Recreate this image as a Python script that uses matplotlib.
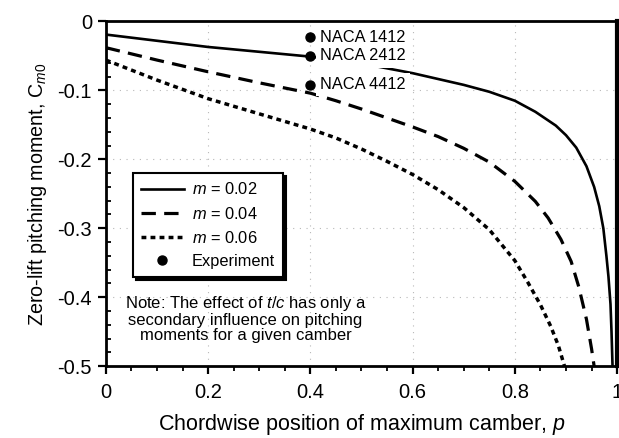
import matplotlib
matplotlib.use("Agg")
import matplotlib.pyplot as plt
from matplotlib.ticker import MultipleLocator, FixedLocator, FixedFormatter

plt.rcParams["font.family"] = ["Liberation Sans", "DejaVu Sans"]
plt.rcParams["mathtext.fontset"] = "custom"
plt.rcParams["mathtext.rm"] = "Liberation Sans"
plt.rcParams["mathtext.it"] = "Liberation Sans:italic"
plt.rcParams["axes.unicode_minus"] = False

# Zero-lift pitching moment vs. position of maximum camber
p_m02 = [0.0, 0.1, 0.2, 0.3, 0.4, 0.5, 0.6, 0.7, 0.75, 0.8, 0.84, 0.88, 0.9,
         0.92, 0.94, 0.955, 0.965, 0.973, 0.979, 0.983, 0.987, 0.989, 0.991]
cm_m02 = [-0.019, -0.028, -0.037, -0.044, -0.051, -0.061, -0.075, -0.092, -0.102,
          -0.115, -0.131, -0.151, -0.165, -0.183, -0.210, -0.240, -0.268, -0.300,
          -0.340, -0.370, -0.410, -0.450, -0.500]

p_m04 = [0.0, 0.1, 0.2, 0.3, 0.4, 0.45, 0.5, 0.55, 0.6, 0.65, 0.7, 0.75, 0.8,
         0.84, 0.865, 0.89, 0.91, 0.925, 0.94, 0.95, 0.955]
cm_m04 = [-0.038, -0.056, -0.073, -0.089, -0.104, -0.115, -0.127, -0.140, -0.153,
          -0.167, -0.184, -0.204, -0.232, -0.261, -0.285, -0.316, -0.348, -0.385,
          -0.432, -0.475, -0.500]

p_m06 = [0.0, 0.1, 0.2, 0.3, 0.4, 0.45, 0.5, 0.55, 0.6, 0.65, 0.7, 0.75, 0.8,
         0.825, 0.85, 0.87, 0.885, 0.897]
cm_m06 = [-0.056, -0.085, -0.112, -0.134, -0.156, -0.169, -0.185, -0.203, -0.222,
          -0.244, -0.270, -0.302, -0.347, -0.378, -0.411, -0.442, -0.470, -0.500]

# Measured values for the NACA airfoils
exp_p = [0.4, 0.4, 0.4]
exp_cm = [-0.023, -0.050, -0.092]
exp_names = ["NACA 1412", "NACA 2412", "NACA 4412"]

x_ticks = [0.0, 0.2, 0.4, 0.6, 0.8, 1.0]
x_tick_labels = ["0", "0.2", "0.4", "0.6", "0.8", "1"]
y_ticks = [0.0, -0.1, -0.2, -0.3, -0.4, -0.5]
y_tick_labels = ["0", "-0.1", "-0.2", "-0.3", "-0.4", "-0.5"]

fig = plt.figure(figsize=(6.19, 4.38), dpi=100)
ax = fig.add_axes([0.171, 0.164, 0.826, 0.787])

ax.plot(p_m02, cm_m02, color="black", lw=1.9, ls="-", label="$m$ = 0.02", zorder=3)
ax.plot(p_m04, cm_m04, color="black", lw=2.3, ls=(0, (4.5, 2.6)), label="$m$ = 0.04", zorder=3)
ax.plot(p_m06, cm_m06, color="black", lw=2.5, ls=(0, (1.4, 1.2)), label="$m$ = 0.06", zorder=3)
ax.plot(exp_p, exp_cm, ls="none", marker="o", ms=6.5, color="black", label="Experiment", zorder=5)

for xp, yp, name in zip(exp_p, exp_cm, exp_names):
    ax.annotate(name, (xp, yp), xytext=(7, 0), textcoords="offset points",
                ha="left", va="center", fontsize=11.8, zorder=4,
                bbox=dict(boxstyle="square,pad=0.25", fc="white", ec="none"))

ax.set_xlim(0, 1)
ax.set_ylim(-0.5, 0)
ax.xaxis.set_major_locator(FixedLocator(x_ticks))
ax.xaxis.set_major_formatter(FixedFormatter(x_tick_labels))
ax.yaxis.set_major_locator(FixedLocator(y_ticks))
ax.yaxis.set_major_formatter(FixedFormatter(y_tick_labels))
ax.xaxis.set_minor_locator(MultipleLocator(0.05))
ax.yaxis.set_minor_locator(MultipleLocator(0.02))
ax.tick_params(axis="both", which="major", labelsize=14.5, width=1.6, length=6,
               direction="out", colors="black")
ax.tick_params(axis="x", which="minor", width=1.3, length=3.5, direction="out")
ax.tick_params(axis="y", which="minor", width=1.3, length=3.5, direction="in")
ax.tick_params(axis="x", which="major", pad=6)
ax.tick_params(axis="y", which="major", pad=4)

ax.grid(True, which="major", color="#b8b8b8", lw=0.8, ls=(0, (1, 5)), zorder=0)

for side in ["left", "bottom", "top"]:
    ax.spines[side].set_linewidth(2.0)
ax.spines["right"].set_linewidth(3.0)

ax.set_xlabel("Chordwise position of maximum camber, $p$", fontsize=15.5, labelpad=7)
ax.set_ylabel("Zero-lift pitching moment, C$_{m0}$", fontsize=14.2, labelpad=6)

leg = ax.legend(loc="upper left", bbox_to_anchor=(0.053, 0.56), borderaxespad=0,
                fontsize=11.8, frameon=True, fancybox=False, edgecolor="black",
                framealpha=1, handlelength=2.6, handletextpad=0.5,
                labelspacing=0.5, borderpad=0.5,
                shadow={"color": "black", "alpha": 1.0})
leg.get_frame().set_linewidth(1.5)

ax.text(0.273, 0.139,
        "Note: The effect of $t/c$ has only a\nsecondary influence on pitching\nmoments for a given camber",
        transform=ax.transAxes, ha="center", va="center", fontsize=12,
        linespacing=1.0)

fig.savefig("out.png", dpi=100)
